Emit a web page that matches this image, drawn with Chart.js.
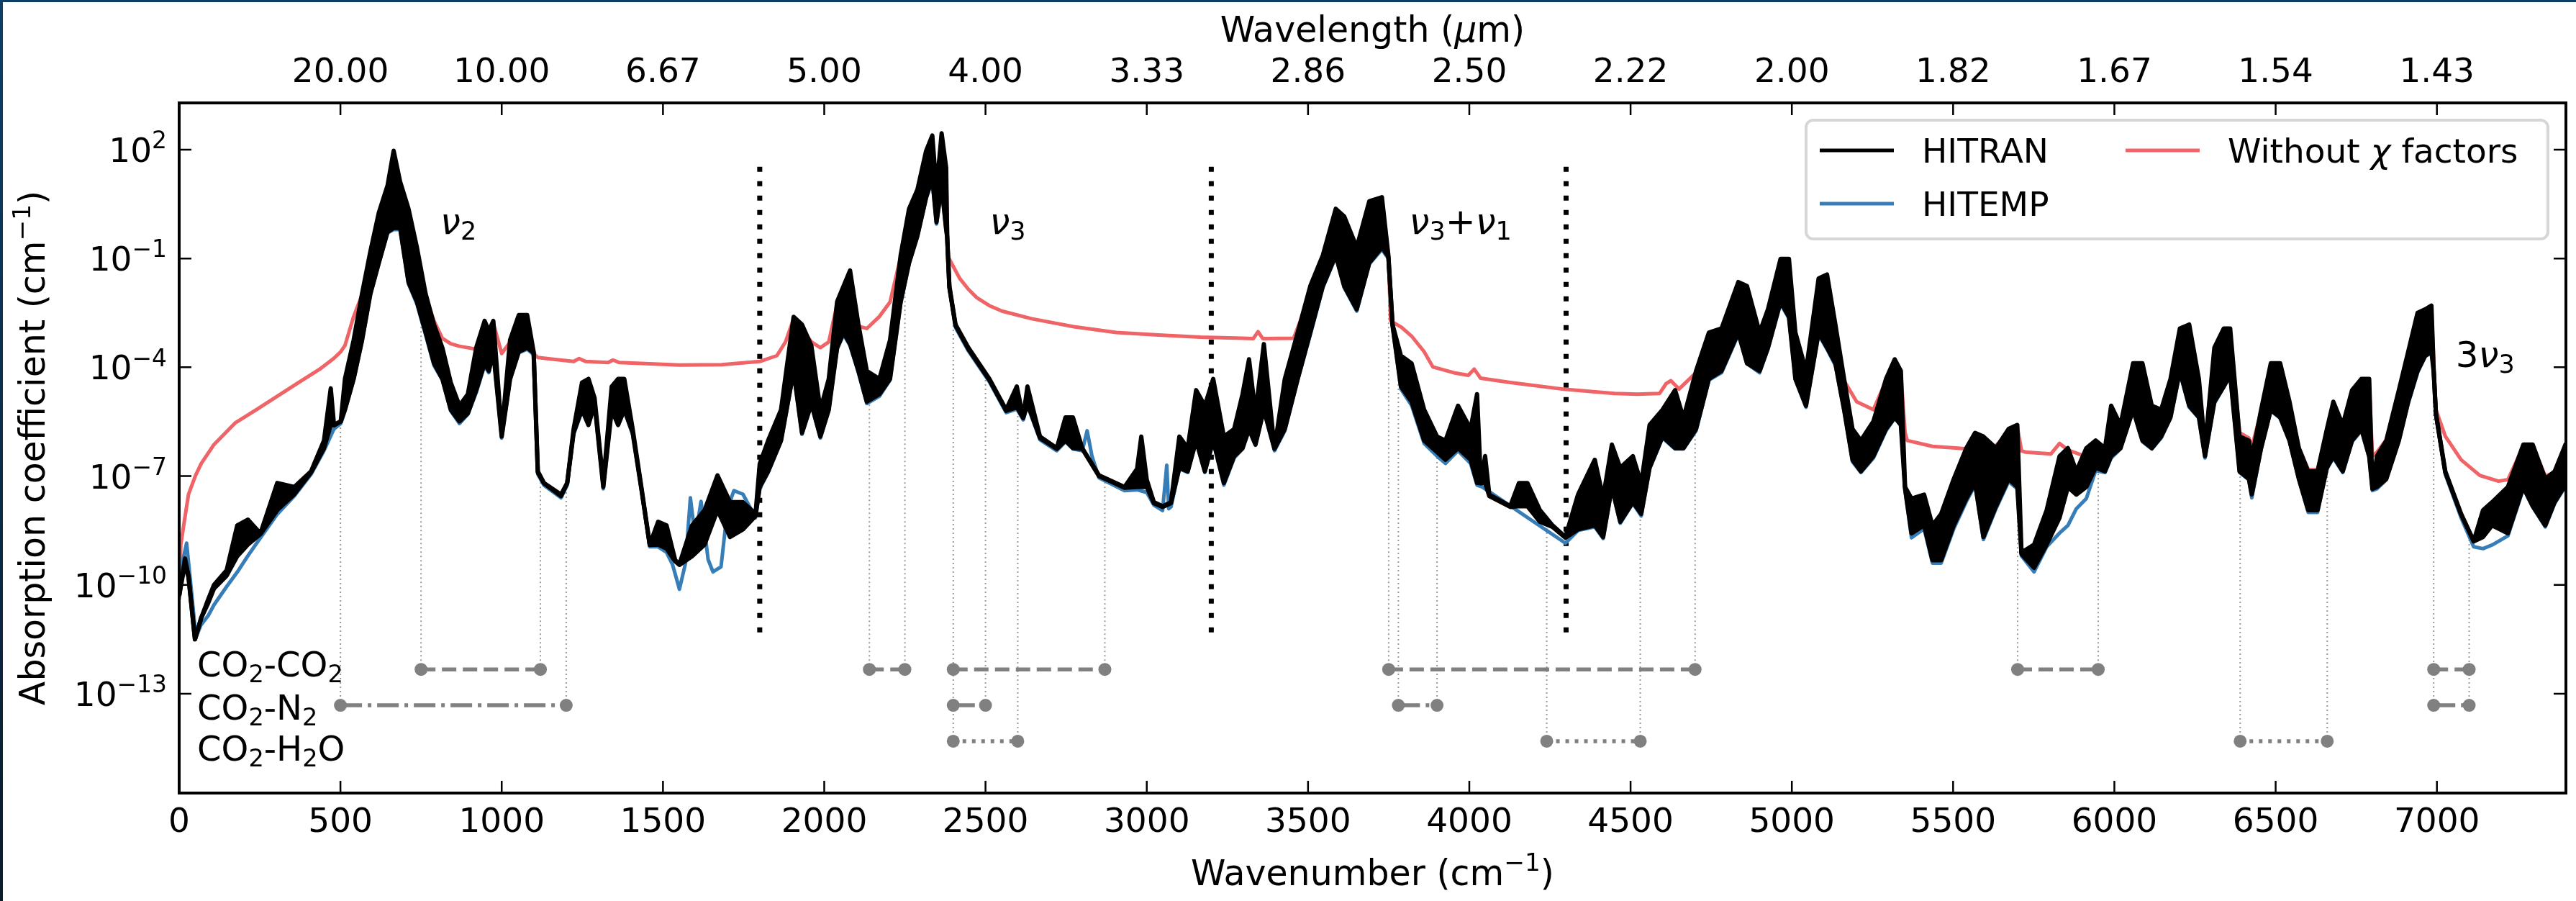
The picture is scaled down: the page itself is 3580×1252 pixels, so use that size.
<!DOCTYPE html>
<html>
<head>
<meta charset="utf-8">
<title>CO2 absorption coefficient</title>
<script src="https://cdn.jsdelivr.net/npm/chart.js@4.4.1/dist/chart.umd.min.js"></script>
<style>
  html, body { margin: 0; padding: 0; background: #fff; }
  canvas { display: block; }
</style>
</head>
<body>
<canvas id="absorption" width="3580" height="1252"></canvas>
<script>
// -------------------------------------------------------
// DATA  (wavenumber in cm-1, values as log10 of cm-1)
// -------------------------------------------------------
// HITRAN: dense line structure, kept as upper / lower edge of the trace
const hitranBand = [
  [0,-10.3,-10.3],[18,-9.27,-9.4],[29,-9.75,-9.8],[49,-11.5,-11.5],[68,-10.92,-10.92],
  [90,-10.4,-10.5],[108,-10.0,-10.1],[147,-9.6,-9.75],[180,-8.36,-9.21],[213,-8.2,-8.89],
  [252,-8.58,-8.6],[304,-7.19,-7.94],[357,-7.3,-7.5],[409,-6.87,-6.9],[449,-6.02,-6.23],
  [470,-4.58,-5.6],[480,-5.59,-5.6],[501,-5.49,-5.5],[514,-4.32,-5.17],[541,-3.25,-4.32],
  [567,-1.97,-3.25],[593,-0.8,-1.97],[619,0.26,-1.12],[646,1.01,-0.27],[665,1.97,-0.16],
  [685,1.12,-0.16],[711,0.37,-1.65],[737,-0.69,-2.19],[764,-1.97,-3.04],[790,-2.82,-3.89],
  [816,-3.46,-4.32],[842,-4.42,-5.17],[869,-5.06,-5.49],[895,-4.74,-5.27],[921,-3.46,-4.63],
  [947,-2.72,-3.89],[960,-3.0,-4.1],[974,-2.72,-3.57],[1000,-5.81,-5.91],[1026,-3.25,-4.32],
  [1053,-2.56,-3.57],[1079,-2.56,-3.46],[1099,-3.57,-3.6],[1112,-6.87,-6.9],[1131,-7.19,-7.2],
  [1184,-7.51,-7.55],[1203,-7.19,-7.2],[1223,-5.7,-5.8],[1249,-4.42,-5.17],[1269,-4.32,-5.59],
  [1288,-4.85,-5.0],[1315,-7.19,-7.3],[1341,-4.53,-5.17],[1361,-4.32,-5.59],[1380,-4.32,-5.17],
  [1406,-5.7,-5.8],[1433,-7.3,-7.35],[1459,-8.89,-8.9],[1485,-8.26,-8.89],[1511,-8.36,-9.0],
  [1538,-9.32,-9.35],[1551,-9.43,-9.45],[1590,-8.36,-9.21],[1629,-7.94,-8.89],[1669,-6.98,-7.94],
  [1708,-7.72,-8.68],[1748,-7.72,-8.47],[1787,-8.04,-8.1],[1800,-6.66,-7.3],[1826,-6.02,-6.87],
  [1866,-5.17,-6.02],[1905,-2.61,-4.1],[1931,-2.82,-5.81],[1960,-3.4,-5.0],[1988,-5.17,-5.91],
  [2014,-4.32,-5.17],[2040,-2.19,-3.46],[2060,-1.76,-3.04],[2080,-1.33,-3.36],[2106,-2.82,-4.1],
  [2132,-4.1,-4.95],[2171,-4.32,-4.74],[2204,-3.25,-4.32],[2237,-0.91,-2.19],[2263,0.37,-1.12],
  [2289,0.9,-0.37],[2316,1.97,0.69],[2335,2.39,1.22],[2348,0.9,0.0],[2364,2.45,1.0],
  [2378,1.5,-0.2],[2381,-0.37,-0.4],[2388,-1.76,-1.8],[2407,-2.82,-2.85],[2447,-3.46,-3.5],
  [2512,-4.32,-4.35],[2564,-5.17,-5.2],[2597,-4.53,-5.1],[2617,-5.38,-5.4],[2630,-4.53,-5.0],
  [2669,-5.91,-5.95],[2721,-6.23,-6.25],[2748,-5.38,-6.02],[2771,-5.38,-6.23],[2800,-6.23,-6.25],
  [2852,-6.98,-7.0],[2931,-7.3,-7.32],[2970,-6.8,-7.3],[2983,-5.91,-7.3],[3000,-7.1,-7.3],
  [3022,-7.72,-7.75],[3049,-7.83,-7.85],[3075,-7.72,-7.75],[3101,-5.91,-6.77],[3127,-6.23,-6.87],
  [3153,-4.63,-6.02],[3180,-5.06,-6.87],[3206,-4.32,-6.02],[3239,-5.91,-7.19],[3271,-5.7,-6.45],
  [3297,-4.74,-6.23],[3317,-3.78,-5.7],[3337,-5.27,-6.13],[3363,-3.36,-5.17],[3396,-6.23,-6.25],
  [3428,-4.32,-5.7],[3468,-3.04,-4.32],[3507,-1.76,-3.04],[3546,-0.91,-1.76],[3586,0.37,-0.91],
  [3612,0.16,-1.76],[3651,-0.69,-2.4],[3690,0.58,-1.12],[3729,0.69,-0.69],[3749,-0.91,-0.95],
  [3762,-2.82,-2.85],[3788,-3.68,-4.53],[3821,-3.89,-4.95],[3860,-5.17,-6.02],[3900,-5.91,-6.34],
  [3926,-6.02,-6.55],[3965,-5.06,-6.23],[4004,-5.7,-6.55],[4024,-4.74,-7.19],[4036,-7.19,-7.2],
  [4049,-6.45,-7.19],[4062,-7.51,-7.55],[4127,-7.83,-7.85],[4154,-7.19,-7.83],[4180,-7.19,-7.83],
  [4219,-7.94,-8.26],[4258,-8.36,-8.4],[4298,-8.68,-8.7],[4337,-7.51,-8.47],[4389,-6.55,-8.36],
  [4415,-7.6,-8.68],[4442,-6.13,-7.3],[4468,-6.77,-8.26],[4507,-6.45,-7.72],[4533,-7.2,-8.04],
  [4559,-5.59,-6.77],[4599,-5.17,-5.91],[4638,-4.63,-6.23],[4664,-5.4,-6.23],[4703,-4.1,-5.7],
  [4743,-3.04,-4.32],[4782,-2.93,-4.1],[4834,-1.65,-3.04],[4861,-1.76,-3.89],[4900,-3.04,-4.1],
  [4926,-2.4,-3.46],[4965,-1.01,-2.19],[4991,-1.01,-2.61],[5011,-3.04,-4.32],[5044,-4.1,-5.06],
  [5083,-1.55,-3.04],[5109,-1.44,-3.46],[5135,-2.82,-3.89],[5162,-4.32,-5.17],[5188,-5.7,-6.55],
  [5214,-6.02,-6.87],[5253,-5.49,-6.45],[5292,-4.32,-5.7],[5319,-3.78,-5.38],[5338,-4.1,-5.59],
  [5351,-7.3,-7.35],[5371,-7.62,-8.58],[5410,-7.51,-8.36],[5436,-8.36,-9.32],[5463,-8.04,-9.32],
  [5502,-7.08,-8.36],[5541,-6.23,-7.62],[5568,-5.81,-7.19],[5594,-5.91,-8.68],[5633,-6.23,-7.83],
  [5672,-5.7,-7.08],[5699,-5.59,-7.3],[5712,-9.11,-9.15],[5751,-8.89,-9.53],[5790,-7.94,-8.89],
  [5830,-6.45,-8.15],[5856,-6.23,-7.3],[5882,-6.87,-7.51],[5913,-6.23,-7.3],[5942,-6.02,-6.77],
  [5971,-6.23,-6.87],[5990,-5.06,-6.45],[6019,-5.59,-6.23],[6058,-3.89,-5.17],[6087,-3.89,-6.02],
  [6116,-5.06,-6.23],[6145,-5.17,-5.91],[6174,-4.32,-5.38],[6203,-2.93,-4.1],[6232,-2.82,-5.06],
  [6262,-4.32,-5.38],[6281,-6.23,-6.45],[6310,-3.46,-4.95],[6339,-2.93,-4.53],[6359,-2.93,-4.2],
  [6388,-5.91,-6.87],[6417,-6.02,-7.08],[6426,-6.5,-7.51],[6455,-5.17,-6.23],[6485,-3.89,-5.17],
  [6514,-3.89,-5.38],[6543,-4.95,-6.02],[6572,-6.23,-7.08],[6601,-6.87,-7.94],[6630,-6.87,-7.94],
  [6659,-5.7,-6.77],[6679,-4.95,-6.45],[6708,-5.59,-6.87],[6737,-4.63,-6.02],[6766,-4.32,-5.7],
  [6790,-4.32,-6.45],[6800,-7.3,-7.35],[6814,-6.45,-7.3],[6843,-6.02,-7.08],[6882,-4.63,-6.02],
  [6911,-3.57,-4.95],[6940,-2.5,-4.1],[6964,-2.4,-3.68],[6983,-2.3,-3.57],[6990,-4.1,-4.12],
  [6997,-5.27,-5.3],[7026,-6.87,-6.9],[7075,-8.04,-8.06],[7114,-8.79,-8.8],[7143,-7.94,-8.68],
  [7171,-7.72,-8.36],[7220,-7.3,-8.58],[7268,-6.13,-7.3],[7297,-6.13,-7.83],[7336,-7.08,-8.36],
  [7365,-6.87,-7.72],[7394,-6.23,-7.3],[7400,-6.1,-7.2]
];

// HITEMP: mostly hidden under HITRAN, shows where it drops below it
const hitempTrace = [
  [0,-10.4],[12,-9.3],[23,-8.85],[35,-9.9],[52,-11.45],[68,-11.1],[90,-10.85],[108,-10.55],
  [147,-10.05],[180,-9.65],[213,-9.2],[252,-8.7],[304,-8.05],[357,-7.55],[409,-6.95],[449,-6.3],
  [480,-5.7],[501,-5.55],[514,-5.2],[541,-4.35],[567,-3.3],[593,-2.0],[619,-1.15],[646,-0.3],
  [665,-0.2],[685,-0.2],[711,-1.7],[737,-2.25],[764,-3.1],[790,-3.95],[816,-4.35],[842,-5.2],
  [869,-5.55],[895,-5.3],[921,-4.7],[947,-3.95],[960,-4.15],[974,-3.6],[1000,-5.95],[1026,-4.35],
  [1053,-3.6],[1079,-3.5],[1099,-3.65],[1112,-6.95],[1131,-7.25],[1184,-7.6],[1203,-7.25],
  [1223,-5.85],[1249,-5.2],[1269,-5.6],[1288,-5.05],[1315,-7.35],[1341,-5.2],[1361,-5.6],
  [1380,-5.2],[1406,-5.85],[1433,-7.4],[1459,-8.95],[1485,-8.95],[1511,-9.1],[1530,-9.45],
  [1551,-10.12],[1570,-9.4],[1585,-7.6],[1600,-8.7],[1618,-7.7],[1640,-9.3],[1655,-9.64],
  [1680,-9.5],[1700,-7.9],[1720,-7.4],[1748,-7.5],[1787,-8.15],[1800,-7.35],[1826,-6.9],
  [1866,-6.05],[1905,-4.15],[1931,-5.85],[1960,-5.05],[1988,-5.95],[2014,-5.2],[2040,-3.5],
  [2060,-3.1],[2080,-3.4],[2106,-4.15],[2132,-5.0],[2171,-4.8],[2204,-4.35],[2237,-2.25],
  [2263,-1.15],[2289,-0.4],[2316,0.65],[2335,1.15],[2348,-0.05],[2364,0.95],[2378,-0.25],
  [2381,-0.42],[2388,-1.85],[2407,-2.9],[2447,-3.55],[2512,-4.4],[2564,-5.25],[2597,-5.15],
  [2617,-5.45],[2630,-5.05],[2669,-6.0],[2721,-6.3],[2748,-6.05],[2771,-6.25],[2800,-6.3],
  [2815,-5.75],[2830,-6.45],[2852,-7.05],[2931,-7.4],[2970,-7.38],[3000,-7.45],[3022,-7.8],
  [3049,-7.95],[3062,-6.7],[3068,-7.9],[3075,-7.85],[3101,-6.8],[3127,-6.9],[3153,-6.05],
  [3180,-6.9],[3206,-6.05],[3239,-7.25],[3271,-6.5],[3297,-6.25],[3317,-5.75],[3337,-6.15],
  [3363,-5.2],[3396,-6.3],[3428,-5.75],[3468,-4.35],[3507,-3.1],[3546,-1.8],[3586,-0.95],
  [3612,-1.8],[3651,-2.45],[3690,-1.15],[3729,-0.75],[3749,-1.0],[3762,-2.9],[3788,-4.6],
  [3821,-5.05],[3860,-6.1],[3900,-6.45],[3926,-6.65],[3965,-6.3],[4004,-6.65],[4024,-7.25],
  [4040,-7.3],[4298,-8.85],[4337,-8.5],[4389,-8.4],[4415,-8.72],[4442,-7.35],[4468,-8.3],
  [4507,-7.75],[4533,-8.1],[4559,-6.8],[4599,-5.95],[4638,-6.25],[4664,-6.25],[4703,-5.75],
  [4743,-4.35],[4782,-4.15],[4834,-3.1],[4861,-3.9],[4900,-4.15],[4926,-3.5],[4965,-2.25],
  [4991,-2.65],[5011,-4.35],[5044,-5.1],[5083,-3.1],[5109,-3.5],[5135,-3.95],[5162,-5.2],
  [5188,-6.6],[5214,-6.9],[5253,-6.5],[5292,-5.75],[5319,-5.4],[5338,-5.6],[5351,-7.4],
  [5371,-8.7],[5410,-8.45],[5436,-9.4],[5463,-9.4],[5502,-8.45],[5541,-7.7],[5568,-7.25],
  [5594,-8.75],[5633,-7.9],[5672,-7.15],[5699,-7.35],[5712,-9.2],[5751,-9.64],[5790,-8.95],
  [5830,-8.57],[5856,-8.36],[5882,-7.9],[5913,-7.62],[5942,-6.85],[5971,-6.9],[5990,-6.5],
  [6019,-6.25],[6058,-5.2],[6087,-6.05],[6116,-6.25],[6145,-5.95],[6174,-5.4],[6203,-4.15],
  [6232,-5.1],[6262,-5.4],[6281,-6.5],[6310,-5.0],[6339,-4.55],[6359,-4.25],[6388,-6.9],
  [6417,-7.1],[6426,-7.6],[6455,-6.25],[6485,-5.2],[6514,-5.4],[6543,-6.05],[6572,-7.1],
  [6601,-8.0],[6630,-8.0],[6659,-6.8],[6679,-6.5],[6708,-6.9],[6737,-6.05],[6766,-5.75],
  [6790,-6.5],[6800,-7.4],[6814,-7.35],[6843,-7.1],[6882,-6.05],[6911,-5.0],[6940,-4.15],
  [6964,-3.7],[6983,-3.6],[6990,-4.15],[6997,-5.35],[7026,-6.95],[7075,-8.15],[7114,-8.95],
  [7143,-9.0],[7171,-8.9],[7220,-8.65],[7268,-7.35],[7297,-7.85],[7336,-8.4],[7365,-7.75],
  [7394,-7.35],[7400,-7.25]
];

// Without chi factors: far wings lifted above the HITRAN trace
const noChiTrace = [
  [0,-10.2],[5,-8.9],[15,-8.3],[29,-7.5],[50,-7.0],[68,-6.66],[108,-6.13],[173,-5.54],
  [239,-5.17],[304,-4.8],[370,-4.42],[436,-4.05],[480,-3.75],[501,-3.57],[514,-3.4],[541,-2.6],
  [567,-2.0],[593,-0.85],[619,0.2],[646,0.95],[665,1.0],[685,1.05],[711,0.3],[737,-0.75],
  [764,-2.05],[790,-2.72],[816,-3.2],[842,-3.35],[869,-3.42],[895,-3.46],[921,-3.5],[947,-2.78],
  [960,-3.05],[974,-2.78],[1000,-3.62],[1026,-3.3],[1053,-2.62],[1079,-2.62],[1099,-3.62],
  [1112,-3.73],[1160,-3.78],[1223,-3.84],[1240,-3.76],[1260,-3.84],[1330,-3.87],[1345,-3.8],
  [1365,-3.87],[1420,-3.89],[1551,-3.94],[1682,-3.93],[1800,-3.84],[1853,-3.68],[1880,-3.3],
  [1905,-2.66],[1931,-2.95],[1960,-3.3],[1988,-3.46],[2014,-3.3],[2040,-2.25],[2060,-1.82],
  [2080,-1.4],[2106,-2.87],[2132,-2.93],[2171,-2.6],[2204,-2.2],[2237,-0.96],[2263,0.32],
  [2289,0.85],[2316,1.92],[2335,2.34],[2348,0.85],[2364,2.4],[2378,1.45],[2384,-0.95],
  [2394,-1.12],[2420,-1.55],[2447,-1.85],[2473,-2.08],[2512,-2.3],[2551,-2.45],[2643,-2.66],
  [2774,-2.88],[2905,-3.04],[3036,-3.11],[3167,-3.17],[3297,-3.2],[3330,-3.21],[3345,-3.02],
  [3360,-3.21],[3455,-3.2],[3481,-2.61],[3507,-1.81],[3546,-0.96],[3586,0.32],[3612,0.11],
  [3651,-0.74],[3690,0.53],[3729,0.64],[3749,-0.9],[3756,-2.72],[3790,-2.9],[3821,-3.14],
  [3860,-3.57],[3887,-3.99],[3952,-4.15],[3997,-4.22],[4015,-4.05],[4035,-4.3],[4127,-4.42],
  [4298,-4.61],[4450,-4.72],[4520,-4.74],[4590,-4.72],[4610,-4.45],[4625,-4.37],[4650,-4.6],
  [4703,-4.15],[4743,-3.09],[4782,-2.98],[4834,-1.7],[4861,-1.81],[4900,-3.09],[4926,-2.45],
  [4965,-1.06],[4991,-1.06],[5011,-3.09],[5044,-4.15],[5083,-1.6],[5109,-1.49],[5135,-2.87],
  [5162,-4.37],[5201,-4.95],[5253,-5.17],[5292,-4.37],[5319,-3.83],[5338,-4.15],[5351,-5.8],
  [5358,-6.02],[5436,-6.18],[5515,-6.23],[5541,-6.25],[5568,-5.86],[5594,-5.96],[5620,-6.28],
  [5650,-6.0],[5672,-5.75],[5699,-5.64],[5712,-6.3],[5725,-6.34],[5803,-6.39],[5830,-6.1],
  [5856,-6.28],[5908,-6.45],[5942,-6.07],[5971,-6.28],[5990,-5.11],[6019,-5.64],[6058,-3.94],
  [6087,-3.94],[6116,-5.11],[6145,-5.22],[6174,-4.37],[6203,-2.98],[6232,-2.87],[6262,-4.37],
  [6281,-6.1],[6310,-3.51],[6339,-2.98],[6359,-2.98],[6388,-5.8],[6417,-5.95],[6426,-6.2],
  [6455,-5.22],[6485,-3.94],[6514,-3.94],[6543,-5.0],[6572,-6.2],[6601,-6.82],[6630,-6.82],
  [6659,-5.75],[6679,-5.0],[6708,-5.64],[6737,-4.68],[6766,-4.37],[6790,-4.37],[6800,-6.45],
  [6814,-6.34],[6843,-6.0],[6882,-4.68],[6911,-3.62],[6940,-2.55],[6964,-2.45],[6983,-2.35],
  [6990,-3.8],[6997,-5.17],[7026,-5.9],[7075,-6.55],[7133,-6.98],[7191,-7.14],[7220,-7.1],
  [7268,-6.18],[7297,-6.18],[7336,-7.0],[7365,-6.9],[7394,-6.25],[7400,-6.15]
];

// axes
const wavenumberTicks = [0, 500, 1000, 1500, 2000, 2500, 3000, 3500, 4000, 4500, 5000, 5500, 6000, 6500, 7000];
const wavelengthTicks = [500, 1000, 1500, 2000, 2500, 3000, 3500, 4000, 4500, 5000, 5500, 6000, 6500, 7000];
const decadeTicks = [-13, -10, -7, -4, -1, 2];

// band separators and band names
const bandEdges = [1800, 3200, 4300];
const bandEdgeSpan = [-11.31, 1.76];
const bandNames = [
  { wn: 810,  exp: -0.32, parts: [{ t: 'ν', it: true }, { t: '2', sub: true }] },
  { wn: 2513, exp: -0.32, parts: [{ t: 'ν', it: true }, { t: '3', sub: true }] },
  { wn: 3814, exp: -0.32, parts: [{ t: 'ν', it: true }, { t: '3', sub: true }, '+', { t: 'ν', it: true }, { t: '1', sub: true }] },
  { wn: 7058, exp: -3.99, parts: ['3', { t: 'ν', it: true }, { t: '3', sub: true }] }
];

// chi-factor ranges per collision partner
const co2co2Ranges = [[750, 1120], [2140, 2250], [2400, 2870], [3750, 4700], [5700, 5950], [6990, 7100]];
const co2n2Ranges  = [[500, 1200], [2400, 2500], [3780, 3900], [6990, 7100]];
const co2h2oRanges = [[2400, 2600], [4240, 4530], [6390, 6660]];
const rangeLevels  = [-12.33, -13.32, -14.31];
const rangeLabelWn = 56;
const rangeLabelExp = [-12.52, -13.71, -14.85];

// -------------------------------------------------------
// BUILD
// -------------------------------------------------------
const FAMILY = "'DejaVu Sans', sans-serif";
const GREY = '#808080';
const pow = e => Math.pow(10, e);

function lowerEdgeAt(wn) {
  for (let i = 1; i < hitranBand.length; i++) {
    const a = hitranBand[i - 1], b = hitranBand[i];
    if (wn <= b[0]) return a[2] + (b[2] - a[2]) * (wn - a[0]) / (b[0] - a[0]);
  }
  return hitranBand[hitranBand.length - 1][2];
}

const partners = [
  { label: 'CO2-CO2', ranges: co2co2Ranges, level: rangeLevels[0], dash: [20, 9] },
  { label: 'CO2-N2',  ranges: co2n2Ranges,  level: rangeLevels[1], dash: [30, 8, 5, 8] },
  { label: 'CO2-H2O', ranges: co2h2oRanges, level: rangeLevels[2], dash: [5, 8] }
];

const rangeSets = [];
const guideBottom = {};
partners.forEach(p => {
  p.ranges.forEach(r => {
    rangeSets.push({
      label: p.label,
      data: r.map(x => ({ x: x, y: pow(p.level) })),
      borderColor: GREY, borderWidth: 5.5, borderDash: p.dash, borderCapStyle: 'butt',
      pointRadius: 9, pointBackgroundColor: GREY, pointBorderWidth: 0, fill: false
    });
    r.forEach(x => {
      guideBottom[x] = guideBottom[x] === undefined ? p.level : Math.min(guideBottom[x], p.level);
    });
  });
});

const guideSets = Object.keys(guideBottom).map(Number).map(x => ({
  label: 'guide',
  data: [{ x: x, y: pow(guideBottom[x]) }, { x: x, y: pow(lowerEdgeAt(x)) }],
  borderColor: '#9a9a9a', borderWidth: 2, borderDash: [2, 4], pointRadius: 0, fill: false
}));

const edgeSets = bandEdges.map(x => ({
  label: 'edge',
  data: bandEdgeSpan.map(e => ({ x: x, y: pow(e) })),
  borderColor: '#000', borderWidth: 7, borderDash: [7, 13], borderCapStyle: 'butt',
  pointRadius: 0, fill: false
}));

const spectra = [
  {
    label: 'HITRAN',
    data: hitranBand.map(r => ({ x: r[0], y: pow(r[1]) })),
    borderColor: '#000', borderWidth: 6, borderJoinStyle: 'round', pointRadius: 0, fill: false
  },
  {
    label: 'HITRAN lower',
    data: hitranBand.map(r => ({ x: r[0], y: pow(r[2]) })),
    borderColor: '#000', backgroundColor: '#000', borderWidth: 6, borderJoinStyle: 'round',
    pointRadius: 0, fill: '-1'
  },
  {
    label: 'HITEMP',
    data: hitempTrace.map(r => ({ x: r[0], y: pow(r[1]) })),
    borderColor: '#377eb8', borderWidth: 5, borderJoinStyle: 'round', pointRadius: 0, fill: false
  },
  {
    label: 'Without χ factors',
    data: noChiTrace.map(r => ({ x: r[0], y: pow(r[1]) })),
    borderColor: '#ef6467', borderWidth: 5, borderJoinStyle: 'round', pointRadius: 0, fill: false
  }
];

// text with sub / superscripts, drawn in one run
function drawRich(ctx, parts, x, y, size, align) {
  const segs = parts.map(p => (typeof p === 'string' ? { t: p } : p));
  const fontFor = s => (s.it ? 'italic ' : '') + ((s.sub || s.sup) ? size * 0.7 : size) + 'px ' + FAMILY;
  let w = 0;
  segs.forEach(s => { ctx.font = fontFor(s); s.w = ctx.measureText(s.t).width; w += s.w; });
  let cx = align === 'center' ? x - w / 2 : (align === 'right' ? x - w : x);
  ctx.textAlign = 'left';
  ctx.textBaseline = 'alphabetic';
  segs.forEach(s => {
    ctx.font = fontFor(s);
    const dy = s.sub ? size * 0.17 : (s.sup ? -size * 0.4 : 0);
    ctx.fillText(s.t, cx, y + dy);
    cx += s.w;
  });
}

const decorations = {
  id: 'decorations',
  beforeDraw(chart) {
    const c = chart.ctx;
    c.save();
    c.fillStyle = '#fff';
    c.fillRect(0, 0, chart.width, chart.height);
    c.fillStyle = '#0c3d66';
    c.fillRect(0, 0, chart.width, 3);
    const g = c.createLinearGradient(0, 0, 0, chart.height);
    g.addColorStop(0, '#0d3f68');
    g.addColorStop(1, '#0a1b2c');
    c.fillStyle = g;
    c.fillRect(0, 0, 4, chart.height);
    c.restore();
  },
  afterDatasetsDraw(chart) {
    const c = chart.ctx;
    const a = chart.chartArea;
    const xs = chart.scales.x, ys = chart.scales.y;
    const px = v => xs.getPixelForValue(v);
    const py = e => ys.getPixelForValue(pow(e));
    c.save();
    c.fillStyle = '#000';

    // band names and partner labels
    bandNames.forEach(b => drawRich(c, b.parts, px(b.wn), py(b.exp), 50, 'left'));
    const rowLabels = [
      ['CO', { t: '2', sub: true }, '-CO', { t: '2', sub: true }],
      ['CO', { t: '2', sub: true }, '-N', { t: '2', sub: true }],
      ['CO', { t: '2', sub: true }, '-H', { t: '2', sub: true }, 'O']
    ];
    rowLabels.forEach((p, i) => drawRich(c, p, px(rangeLabelWn), py(rangeLabelExp[i]), 48, 'left'));

    // ticks, pointing inwards on all four sides
    c.strokeStyle = '#000';
    c.lineWidth = 2.5;
    c.beginPath();
    wavenumberTicks.forEach(v => { c.moveTo(px(v), a.bottom); c.lineTo(px(v), a.bottom - 17); });
    wavelengthTicks.forEach(v => { c.moveTo(px(v), a.top); c.lineTo(px(v), a.top + 17); });
    decadeTicks.forEach(e => {
      c.moveTo(a.left, py(e)); c.lineTo(a.left + 17, py(e));
      c.moveTo(a.right, py(e)); c.lineTo(a.right - 17, py(e));
    });
    c.stroke();
    c.lineWidth = 4;
    c.strokeRect(a.left, a.top, a.right - a.left, a.bottom - a.top);

    // tick labels
    wavenumberTicks.forEach(v => drawRich(c, [String(v)], px(v), a.bottom + 54, 47, 'center'));
    wavelengthTicks.forEach(v => drawRich(c, [(10000 / v).toFixed(2)], px(v), a.top - 29, 47, 'center'));
    decadeTicks.forEach(e => {
      const exp = (e < 0 ? '−' : '') + Math.abs(e);
      drawRich(c, ['10', { t: exp, sup: true }], a.left - 17, py(e) + 17, 47, 'right');
    });

    // axis titles
    const midX = (a.left + a.right) / 2;
    drawRich(c, ['Wavenumber (cm', { t: '−1', sup: true }, ')'], midX, a.bottom + 128, 49, 'center');
    drawRich(c, ['Wavelength (', { t: 'μ', it: true }, 'm)'], midX, a.top - 85, 49, 'center');
    c.save();
    c.translate(44, (a.top + a.bottom) / 2);
    c.rotate(-Math.PI / 2);
    drawRich(c, ['Absorption coefficient (cm', { t: '−1', sup: true }, ')'], 0, 18, 49, 'center');
    c.restore();

    // legend, two columns
    const ds = chart.data.datasets;
    const L = { x0: a.right - 25, y0: a.top + 24 };
    const bx = 2510, bw = L.x0 - bx, by = L.y0, bh = 165;
    c.beginPath();
    c.roundRect(bx, by, bw, bh, 10);
    c.fillStyle = 'rgba(255,255,255,0.85)';
    c.fill();
    c.strokeStyle = '#d6d6d6';
    c.lineWidth = 4;
    c.stroke();
    const entries = [
      { ds: ds[0], x: bx + 19, y: by + 42, parts: ['HITRAN'] },
      { ds: ds[2], x: bx + 19, y: by + 116, parts: ['HITEMP'] },
      { ds: ds[3], x: bx + 444, y: by + 42, parts: ['Without ', { t: 'χ', it: true }, ' factors'] }
    ];
    entries.forEach(en => {
      c.strokeStyle = en.ds.borderColor;
      c.lineWidth = 5;
      c.beginPath();
      c.moveTo(en.x, en.y);
      c.lineTo(en.x + 103, en.y);
      c.stroke();
      c.fillStyle = '#000';
      drawRich(c, en.parts, en.x + 142, en.y + 17, 47, 'left');
    });
    c.restore();
  }
};

new Chart(document.getElementById('absorption'), {
  type: 'line',
  data: { datasets: [...spectra, ...rangeSets, ...edgeSets, ...guideSets] },
  options: {
    responsive: false,
    animation: false,
    devicePixelRatio: 1,
    events: [],
    layout: { padding: { left: 249, top: 143, right: 14, bottom: 150 } },
    elements: { line: { tension: 0 } },
    scales: {
      x: { type: 'linear', min: 0, max: 7400, display: false },
      y: { type: 'logarithmic', min: pow(-15.74), max: pow(3.29), display: false }
    },
    plugins: {
      legend: { display: false },
      tooltip: { enabled: false }
    }
  },
  plugins: [decorations]
});
</script>
</body>
</html>
